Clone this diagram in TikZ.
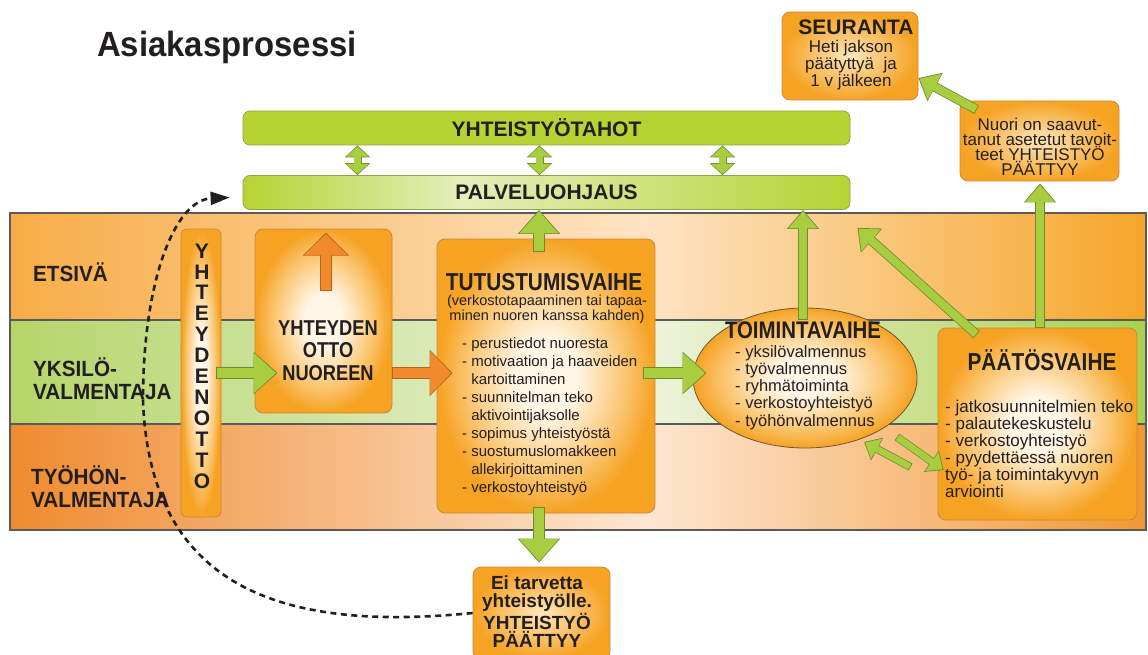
\documentclass[tikz,border=0pt]{standalone}
\usepackage{fontspec}
\setmainfont{Liberation Sans}
\newfontfamily\condfont[FakeStretch=0.85]{Liberation Sans}
\newfontfamily\labfont[FakeStretch=0.94]{Liberation Sans}
\usepackage{tikz}
\usetikzlibrary{arrows.meta,shapes,calc}

\definecolor{txt}{HTML}{231F20}
\definecolor{limeg}{HTML}{B6D334}
\definecolor{limeedge}{HTML}{8EA44E}
\definecolor{limepale}{HTML}{E4EEBB}
\definecolor{ggreen}{HTML}{A8CD3E}
\definecolor{gedge}{HTML}{6E8B34}
\definecolor{oedge}{HTML}{F6A222}
\definecolor{omid}{HTML}{FBC671}
\definecolor{ocenter}{HTML}{FFF6E6}
\definecolor{osmall}{HTML}{FFE6BC}
\definecolor{oborder}{HTML}{C98A3A}
\definecolor{ellborder}{HTML}{6A5638}
\definecolor{oarrow}{HTML}{F18A2B}
\definecolor{oarrowedge}{HTML}{B5641E}
\definecolor{bandline}{HTML}{5A5A5A}
\definecolor{etsL}{HTML}{F8AC47}
\definecolor{etsM}{HTML}{FDE3C3}
\definecolor{etsR}{HTML}{F6A629}
\definecolor{yksL}{HTML}{B5D56A}
\definecolor{yksM}{HTML}{EDF4DC}
\definecolor{yksR}{HTML}{ABD04E}
\definecolor{tyoL}{HTML}{EF8B2F}
\definecolor{tyoM}{HTML}{FDE6D2}
\definecolor{tyoR}{HTML}{F29833}

\pgfdeclarehorizontalshading{etsrow}{100bp}{color(0bp)=(etsL); color(25bp)=(etsL); color(53bp)=(etsM); color(75bp)=(etsR); color(100bp)=(etsR)}
\pgfdeclarehorizontalshading{yksrow}{100bp}{color(0bp)=(yksL); color(25bp)=(yksL); color(53bp)=(yksM); color(75bp)=(yksR); color(100bp)=(yksR)}
\pgfdeclarehorizontalshading{tyorow}{100bp}{color(0bp)=(tyoL); color(25bp)=(tyoL); color(53bp)=(tyoM); color(75bp)=(tyoR); color(100bp)=(tyoR)}
\pgfdeclarehorizontalshading{palvshade}{100bp}{color(0bp)=(limeg); color(25bp)=(limeg); color(43bp)=(limepale); color(75bp)=(limeg); color(100bp)=(limeg)}
\pgfdeclareradialshading{boxglow}{\pgfpointorigin}{color(0bp)=(ocenter); color(7bp)=(ocenter); color(18bp)=(omid); color(25bp)=(oedge); color(50bp)=(oedge)}
\pgfdeclareradialshading{smallglow}{\pgfpointorigin}{color(0bp)=(osmall); color(25bp)=(oedge); color(50bp)=(oedge)}

\tikzset{
  bar/.style={draw=limeedge, line width=0.8pt, rounded corners=7pt, minimum width=607pt, minimum height=34pt, inner sep=0pt, text=txt, font=\fontsize{21}{21}\selectfont\bfseries},
  obox/.style={draw=oborder, line width=0.8pt, rounded corners=8pt, shade, shading=boxglow, inner sep=0pt},
  sbox/.style={obox, shading=smallglow},
  lab/.style={anchor=base west, inner sep=0pt, text=txt, align=left, font=\labfont\fontsize{22}{23}\selectfont\bfseries},
  head/.style={anchor=base, inner sep=0pt, text=txt, align=center, font=\condfont\fontsize{24}{24}\selectfont\bfseries},
  items/.style={anchor=base west, inner sep=0pt, text=txt, align=left},
  btext/.style={anchor=base, inner sep=0pt, text=txt, align=center},
  garrow/.style={draw=ggreen, line width=10pt, shorten <=0.8pt, shorten >=1.4pt, -{Triangle[width=38pt,length=22pt]},
    preaction={draw=gedge, line width=11.6pt, shorten <=0pt, shorten >=0pt, -{Triangle[width=41pt,length=24pt]}}},
  gthin/.style={draw=ggreen, line width=8pt, shorten <=0.8pt, shorten >=1.4pt, -{Triangle[width=28pt,length=17pt]},
    preaction={draw=gedge, line width=9.6pt, shorten <=0pt, shorten >=0pt, -{Triangle[width=31pt,length=19pt]}}},
  gsmall/.style={draw=ggreen, line width=6.5pt, shorten <=0.8pt, shorten >=1.3pt, -{Triangle[width=22pt,length=13pt]},
    preaction={draw=gedge, line width=8pt, shorten <=0pt, shorten >=0pt, -{Triangle[width=25pt,length=15pt]}}},
  gdbl/.style={draw=ggreen, line width=6.5pt, shorten <=1.2pt, shorten >=1.2pt, {Triangle[width=22pt,length=10pt]}-{Triangle[width=22pt,length=10pt]},
    preaction={draw=gedge, line width=8pt, shorten <=0pt, shorten >=0pt, {Triangle[width=25pt,length=12pt]}-{Triangle[width=25pt,length=12pt]}}},
  oarr/.style={draw=oarrow, line width=10pt, shorten <=0.8pt, shorten >=1.4pt, -{Triangle[width=42pt,length=21pt]},
    preaction={draw=oarrowedge, line width=11.6pt, shorten <=0pt, shorten >=0pt, -{Triangle[width=45pt,length=23pt]}}},
  dashcurve/.style={draw=txt, line width=2.6pt, dash pattern=on 6pt off 4.5pt, -{Triangle[width=13pt,length=19pt]}}
}

\begin{document}
\begin{tikzpicture}[x=1pt, y=-1pt]
\useasboundingbox (0,0) rectangle (1148,655);

\node[anchor=base west, inner sep=0pt, text=txt, font=\labfont\fontsize{35}{35}\selectfont\bfseries] (title) at (97,57) {Asiakasprosessi};

\node[bar, fill=limeg] (yht) at (546.5,128) {YHTEISTYÖTAHOT};
\node[bar, shade, shading=palvshade] (palv) at (546.5,192.5) {PALVELUOHJAUS};

\shade[shading=etsrow] (10,213) rectangle (1146,320);
\shade[shading=yksrow] (10,320) rectangle (1146,424);
\shade[shading=tyorow] (10,424) rectangle (1146,530);
\draw[bandline, line width=1.4pt] (10,213) rectangle (1146,530);
\foreach \y in {320,424}
	\draw[bandline, line width=1.4pt] (10,\y) -- (1146,\y);

% multi-line nodes sit on the baseline of their last line
\node[lab] (etsiva) at (33,281) {ETSIVÄ};
\node[lab] (yksilo) at (33,399) {YKSILÖ-\\VALMENTAJA};
\node[lab] (tyohon) at (31,507) {TYÖHÖN-\\VALMENTAJA};

\node[obox, rounded corners=6pt, minimum width=40pt, minimum height=288pt] (yhtot) at (201,373) {};
\node[obox, minimum width=137pt, minimum height=184pt] (yhtn) at (323.5,321) {};
\node[obox, minimum width=218pt, minimum height=274pt] (tut) at (546,376) {};
\node[obox, ellipse, draw=ellborder, minimum width=224pt, minimum height=140pt] (toim) at (805,378) {};
\node[obox, minimum width=199pt, minimum height=192pt] (paat) at (1037.5,424) {};
\node[sbox, minimum width=159pt, minimum height=80pt] (nuori) at (1039.5,141) {};
\node[sbox, minimum width=136pt, minimum height=88pt] (seur) at (850,56) {};
\node[sbox, minimum width=137pt, minimum height=92pt] (ei) at (541.5,613) {};

\foreach \dx in {-189,-7,176}
	\draw[gdbl] ($(yht.south)+(\dx,0)$) -- ($(palv.north)+(\dx,0)$);

\draw[garrow] ($(yhtot.east)+(-5,0)$) -- ($(yhtot.east -| yhtn.west)+(23,0)$);
\draw[oarr] (yhtn.east |- yhtot.east) -- ($(tut.west |- yhtot.east)+(16,0)$);
\draw[oarr] ($(yhtn.north)+(2.5,62)$) -- ($(yhtn.north)+(2.5,4)$);
\draw[garrow] ($(tut.east |- yhtot.east)+(-12,0)$) -- ($(toim.west |- yhtot.east)+(14,0)$);
\draw[garrow] ($(tut.north)+(-7,13)$) -- ($(tut.north |- palv.south)+(-7,0)$);
\draw[garrow] ($(tut.south)+(-7,-6)$) -- ($(ei.north)+(-2.5,-4)$);
\draw[gthin] ($(toim.north)+(-2,12)$) -- ($(toim.north |- palv.south)+(-2,0)$);
\draw[gthin] ($(paat.north west)+(39,7)$) -- ($(palv.south east)+(7,18)$);
\draw[gthin] ($(paat.north)+(2.5,0)$) -- ($(nuori.south)+(0.5,2)$);
\draw[gthin] ($(nuori.north west)+(17,9)$) -- ($(seur.east)+(0,22)$);
\draw[gsmall] ($(paat.west)+(-27,43)$) -- ($(toim.center)+(59,64)$);
\draw[gsmall] ($(toim.center)+(92,59)$) -- ($(paat.west)+(6,46)$);

\node[btext, font=\bfseries\fontsize{21}{20.9}\selectfont] (yhtottxt) at (202,488) {Y\\H\\T\\E\\Y\\D\\E\\N\\O\\T\\T\\O};
\node[head, font=\condfont\fontsize{21.5}{22.5}\selectfont\bfseries] (yhtntxt) at (328,380) {YHTEYDEN\\OTTO\\NUOREEN};
\node[head, font=\condfont\fontsize{24.5}{24.5}\selectfont\bfseries] (tuttitle) at (544,290) {TUTUSTUMISVAIHE};
\node[btext, font=\fontsize{14.5}{13}\selectfont] (tutsub) at (547,320) {(verkostotapaaminen tai tapaa-\\minen nuoren kanssa kahden)};
\node[items, font=\fontsize{15}{18}\selectfont] (tutlist) at (462,492) {- perustiedot nuoresta\\- motivaation ja haaveiden\\\phantom{- }kartoittaminen\\- suunnitelman teko\\\phantom{- }aktivointijaksolle\\- sopimus yhteistyöstä\\- suostumuslomakkeen\\\phantom{- }allekirjoittaminen\\- verkostoyhteistyö};
\node[head] (toimtitle) at (803,338) {TOIMINTAVAIHE};
\node[items, font=\fontsize{16.5}{17.2}\selectfont] (toimlist) at (735,426) {- yksilövalmennus\\- työvalmennus\\- ryhmätoiminta\\- verkostoyhteistyö\\- työhönvalmennus};
\node[head, font=\condfont\fontsize{24.5}{24.5}\selectfont\bfseries] (paattitle) at (1042,370) {PÄÄTÖSVAIHE};
\node[items, font=\fontsize{17}{17}\selectfont] (paatlist) at (945,497) {- jatkosuunnitelmien teko\\- palautekeskustelu\\- verkostoyhteistyö\\- pyydettäessä nuoren\\työ- ja toimintakyvyn\\arviointi};
\node[btext, font=\bfseries\fontsize{21}{21}\selectfont] (seurtitle) at (856,35) {SEURANTA};
\node[btext, font=\fontsize{17}{17}\selectfont] (seurtxt) at (851,87) {Heti jakson\\päätyttyä\ \ ja\\1 v jälkeen};
\node[btext, font=\fontsize{17}{15}\selectfont] (nuoritxt) at (1040,176) {Nuori on saavut-\\tanut asetetut tavoit-\\teet YHTEISTYÖ\\PÄÄTTYY};
\node[btext, font=\bfseries\fontsize{19}{18}\selectfont] (eitxt) at (537,647) {Ei tarvetta\\yhteistyölle.\\YHTEISTYÖ\\PÄÄTTYY};

\draw[dashcurve] (ei.west) .. controls (300,630) and (150,600) .. (143,400) .. controls (143,280) and (175,200) .. ($(palv.west)+(-13,5)$);

\end{tikzpicture}
\end{document}
